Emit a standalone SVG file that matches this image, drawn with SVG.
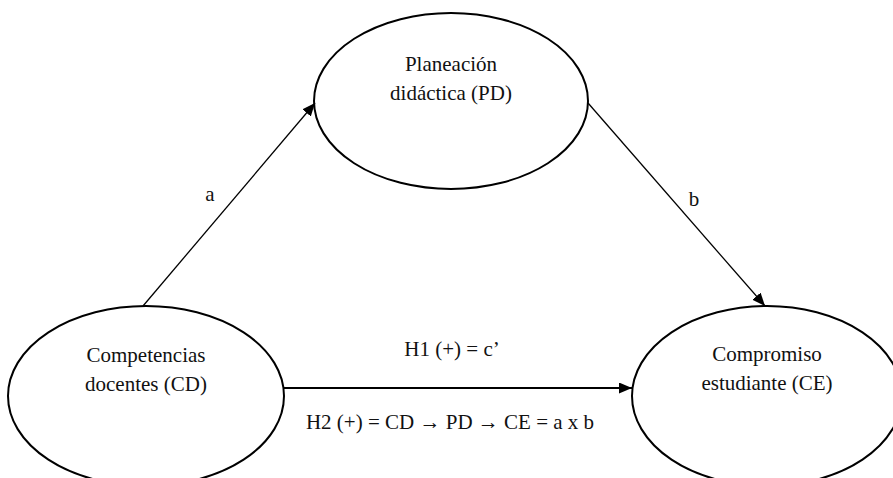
<svg xmlns="http://www.w3.org/2000/svg" width="893" height="478" viewBox="0 0 893 478" font-family="'Liberation Serif', 'Times New Roman', 'DejaVu Serif', serif">
<style>
.node ellipse{fill:#fff;stroke:#000;stroke-width:2}
.t{font-family:'Liberation Serif','Times New Roman','DejaVu Serif',serif;font-size:21px;fill:#111;text-anchor:middle}
.conn line{stroke:#000;stroke-width:1.3}
.conn line.main{stroke-width:2}
</style>
<defs>
<marker id="ah" markerUnits="userSpaceOnUse" markerWidth="14" markerHeight="12" refX="13" refY="5.5" orient="auto">
<path d="M0,0 L13,5.5 L0,11 z" fill="#000"/>
</marker>
</defs>
<rect width="893" height="478" fill="#fff"/>
<g id="PD" class="node">
<ellipse cx="451" cy="101" rx="137" ry="88"/>
<text class="t" x="451" y="71">Planeación</text>
<text class="t" x="451" y="100">didáctica (PD)</text>
</g>
<g id="CD" class="node">
<ellipse cx="146" cy="396" rx="138" ry="90"/>
<text class="t" x="146" y="362">Competencias</text>
<text class="t" x="146" y="391">docentes (CD)</text>
</g>
<g id="CE" class="node">
<ellipse cx="767" cy="396" rx="135" ry="90"/>
<text class="t" x="767" y="361">Compromiso</text>
<text class="t" x="767" y="390">estudiante (CE)</text>
</g>
<g id="connectors" class="conn">
<line x1="143" y1="306" x2="315" y2="103" marker-end="url(#ah)"/>
<line x1="588" y1="103" x2="765" y2="306" marker-end="url(#ah)"/>
<line class="main" x1="284" y1="388" x2="632" y2="388" marker-end="url(#ah)"/>
<text class="t" x="210" y="201">a</text>
<text class="t" x="694" y="206">b</text>
<text class="t" x="452" y="356">H1 (+) = c’</text>
<text class="t" x="450" y="429">H2 (+) = CD → PD → CE = a x b</text>
</g>
</svg>
